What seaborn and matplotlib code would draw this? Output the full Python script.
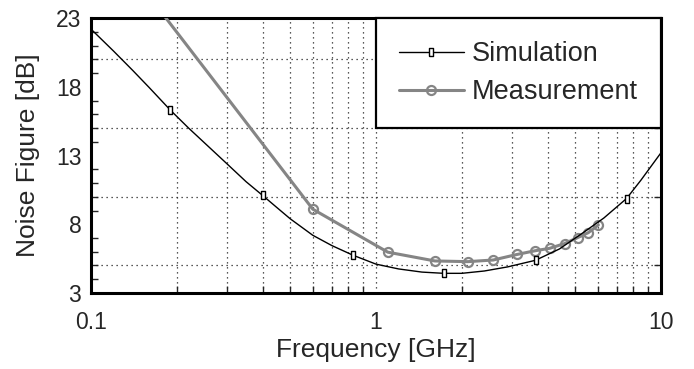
import numpy as np
import pandas as pd
import matplotlib
matplotlib.use("Agg")
import matplotlib.pyplot as plt
import seaborn as sns

# Simulation curve (GHz, dB)
sim_freq = [0.1, 0.12, 0.14, 0.16, 0.19, 0.22, 0.26, 0.3, 0.35, 0.4, 0.45, 0.5,
            0.6, 0.7, 0.83, 1.0, 1.2, 1.45, 1.73, 2.0, 2.4, 2.9, 3.63, 4.4,
            5.3, 6.3, 7.57, 8.5, 10.0]
sim_nf = [22.2, 20.6, 19.2, 17.95, 16.3, 15.0, 13.6, 12.4, 11.1, 10.1, 9.2, 8.4,
          7.2, 6.45, 5.75, 5.1, 4.75, 4.52, 4.43, 4.43, 4.6, 4.9, 5.38, 6.2,
          7.35, 8.45, 9.87, 11.2, 13.2]
sim_marked = [4, 9, 14, 18, 22, 26]

# Measurement (first point sits above the plotted range)
meas_freq = [0.1, 0.6, 1.1, 1.61, 2.1, 2.58, 3.12, 3.61, 4.07, 4.6, 5.1, 5.56, 6.03]
meas_nf = [30.1, 9.1, 5.97, 5.33, 5.28, 5.4, 5.8, 6.07, 6.25, 6.6, 7.03, 7.39, 7.95]

y_labels = [3, 8, 13, 18, 23]
y_grid = [5, 10, 15, 20]
x_labels = [0.1, 1, 10]

sns.set_style("white")
plt.rcParams["font.family"] = ["Liberation Sans", "DejaVu Sans"]

fig = plt.figure(figsize=(6.94, 3.69), dpi=100)
ax = fig.add_axes([0.1311, 0.206, 0.8213, 0.745])

sim = pd.DataFrame({"f": sim_freq, "nf": sim_nf})
meas = pd.DataFrame({"f": meas_freq, "nf": meas_nf})

rect = [(-0.4, -1), (0.4, -1), (0.4, 1), (-0.4, 1), (-0.4, -1)]
sns.lineplot(data=sim, x="f", y="nf", ax=ax, estimator=None, sort=False,
             color="black", lw=1.0, marker=rect, markersize=6, markevery=sim_marked,
             mfc="white", mec="black", mew=1.0, label="Simulation", zorder=4)
sns.lineplot(data=meas, x="f", y="nf", ax=ax, estimator=None, sort=False,
             color="#858585", lw=2.2, marker="o", markersize=6.5,
             mfc="none", mec="#858585", mew=1.6, label="Measurement", zorder=3)

ax.set_xscale("log")
ax.set_xlim(0.1, 10)
ax.set_ylim(3, 23)

# dotted grid: all decade subdivisions and every 5 dB
dots = dict(color="#222222", lw=0.9, ls=(0, (1, 3)), zorder=1)
for d in (0.1, 1):
    for k in range(2, 11):
        v = d * k
        if v < 10:
            ax.axvline(v, **dots)
for v in y_grid:
    ax.axhline(v, **dots)

ax.set_xticks(x_labels)
ax.set_xticklabels(["0.1", "1", "10"])
ax.set_yticks(y_labels)
ax.set_yticks([v for v in range(4, 23) if v not in y_labels], minor=True)
ax.tick_params(axis="both", which="major", labelsize=16.5, length=0)
ax.tick_params(axis="x", which="major", pad=13)
ax.tick_params(axis="y", which="major", pad=7)
ax.tick_params(axis="y", which="minor", direction="in", length=5, width=1, left=True)
ax.tick_params(axis="x", which="minor", direction="in", length=5, width=1, bottom=True,
               labelbottom=False)

sec = ax.secondary_yaxis("right")
sec.set_yticks(y_grid)
sec.set_yticklabels([])
sec.tick_params(direction="in", length=5, width=1)
sec.spines["right"].set_visible(False)

for s in ax.spines.values():
    s.set_linewidth(2.2)
    s.set_color("black")

ax.set_xlabel("Frequency [GHz]", fontsize=19, labelpad=3)
ax.set_ylabel("Noise Figure [dB]", fontsize=19, labelpad=11)

leg = ax.legend(loc="upper right", bbox_to_anchor=(1, 1), borderaxespad=0,
                fontsize=19.5, frameon=True, fancybox=False, framealpha=1,
                edgecolor="black", handlelength=2.4, handletextpad=0.3,
                borderpad=0.85, labelspacing=0.45)
leg.get_frame().set_linewidth(1.6)
leg.set_zorder(10)

fig.savefig("out.png", dpi=100)
